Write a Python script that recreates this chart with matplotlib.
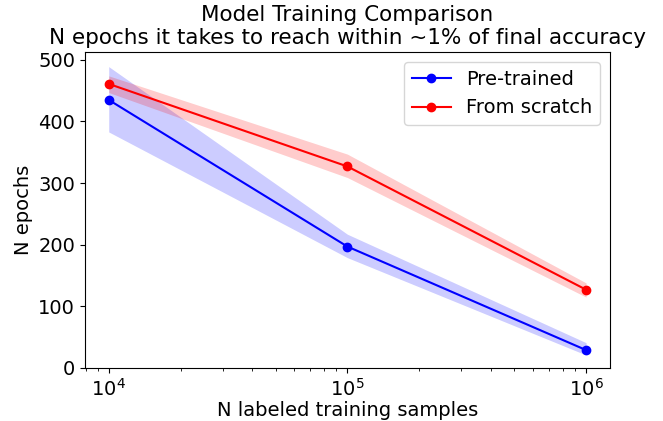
import numpy as np
import matplotlib.pyplot as plt

n_samples = [1e4, 1e5, 1e6]

pretrained_mean = [435, 197, 29]
pretrained_low = [383, 179, 21]
pretrained_high = [489, 217, 41]

scratch_mean = [461, 327, 127]
scratch_low = [447, 309, 115]
scratch_high = [474, 347, 138]

plt.rcParams['font.size'] = 14
fig = plt.figure(figsize=(6.63, 4.21), dpi=100)
ax = fig.add_axes([0.128, 0.126, 0.792, 0.75])

# Pre-trained curve with spread
ax.plot(n_samples, pretrained_mean, 'bo-', label='Pre-trained')
ax.fill_between(n_samples, pretrained_low, pretrained_high, color='b', alpha=0.2, linewidth=0)

# From scratch curve with spread
ax.plot(n_samples, scratch_mean, 'ro-', label='From scratch')
ax.fill_between(n_samples, scratch_low, scratch_high, color='r', alpha=0.2, linewidth=0)

ax.set_xscale('log')
ax.set_ylim(bottom=0)
ax.set_xlabel('N labeled training samples', labelpad=1)
ax.set_ylabel('N epochs')
ax.set_title('Model Training Comparison\nN epochs it takes to reach within ~1% of final accuracy', fontsize=15.5)
ax.legend(loc='upper right')

fig.savefig('out.png', dpi=100)
